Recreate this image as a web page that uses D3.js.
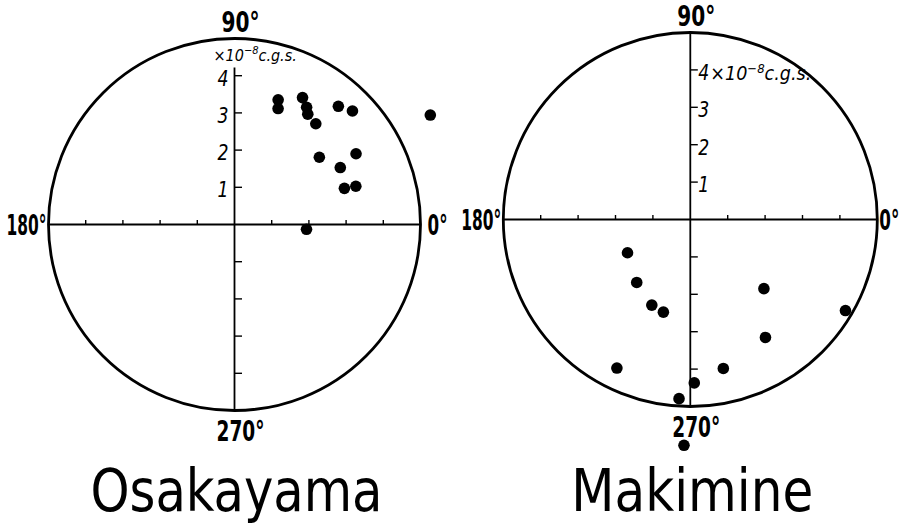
<!DOCTYPE html>
<html>
<head>
<meta charset="utf-8">
<script src="https://cdn.jsdelivr.net/npm/d3@7"></script>
<style>
  html, body { margin: 0; padding: 0; background: #fff; }
  svg { display: block; }
  text { font-family: "DejaVu Sans Condensed", "Liberation Sans Narrow", "DejaVu Sans", sans-serif; fill: #000; }
</style>
</head>
<body>
<svg id="chart" width="908" height="532"></svg>
<script>
// Direction of remanent magnetization (degrees, 0° = right, counter-clockwise)
// and its intensity (×10⁻⁸ c.g.s.) for each specimen.
const osakayamaDirection = [70.7, 69.4, 61.8, 58.4, 56.4, 51.1, 48.7, 43.9, 38.4, 30.2, 28.3, 18.2, 17.5, 356.2, 29.2];
const osakayamaIntensity = [3.55, 3.33, 3.87, 3.70, 3.56, 3.48, 4.23, 4.40, 2.91, 3.78, 3.23, 3.11, 3.42, 1.94, 6.03];

const makimineDirection = [207.9, 229.6, 245.8, 253.8, 243.7, 266.4, 271.4, 282.5, 316.8, 302.5, 329.6, 268.4];
const makimineIntensity = [1.90, 2.21, 2.51, 2.58, 4.43, 4.80, 4.37, 4.08, 2.70, 3.74, 4.81, 6.04];

const radialTicks = [1, 2, 3, 4];
const radialTickLabels = ["1", "2", "3", "4"];
const compassAngles = [0, 90, 180, 270];
const compassLabels = ["0°", "90°", "180°", "270°"];
const siteNames = ["Osakayama", "Makimine"];

const svg = d3.select("#chart");

// rendered widths of the compass labels (px)
const compassWidth = { 0: 20, 90: 38, 180: 40, 270: 48 };

function drawPlot(opts) {
  const { cx, cy, R, direction, intensity, name, nameWidth, labelsLeft, zeroGap } = opts;
  const g = svg.append("g");
  const r = d3.scaleLinear().domain([0, 5]).range([0, R]);
  const toXY = (deg, m) => {
    const a = deg * Math.PI / 180;
    return [cx + r(m) * Math.cos(a), cy - r(m) * Math.sin(a)];
  };

  // outer rim
  g.append("circle")
    .attr("cx", cx).attr("cy", cy).attr("r", r(5))
    .attr("fill", "none").attr("stroke", "#000").attr("stroke-width", 2.8);

  // horizontal axis
  g.append("line")
    .attr("x1", cx - r(5)).attr("x2", cx + r(5))
    .attr("y1", cy).attr("y2", cy)
    .attr("stroke", "#000").attr("stroke-width", 1.8);

  // vertical axis (left plot leaves room for the unit caption at the top)
  g.append("line")
    .attr("x1", cx).attr("x2", cx)
    .attr("y1", labelsLeft ? cy - r(4.22) : cy - r(5)).attr("y2", cy + r(5))
    .attr("stroke", "#000").attr("stroke-width", 1.8);

  // ticks along the horizontal axis (both sides)
  const hTicks = radialTicks.flatMap(v => [v, -v]);
  g.selectAll(".htick").data(hTicks).enter().append("line")
    .attr("x1", d => cx + (d > 0 ? r(d) : -r(-d)))
    .attr("x2", d => cx + (d > 0 ? r(d) : -r(-d)))
    .attr("y1", cy).attr("y2", cy - 4.5)
    .attr("stroke", "#000").attr("stroke-width", 1.4);

  // ticks along the vertical axis (both sides), pointing right
  const vTicks = radialTicks.flatMap(v => [v, -v]);
  g.selectAll(".vtick").data(vTicks).enter().append("line")
    .attr("x1", cx).attr("x2", cx + 7.5)
    .attr("y1", d => cy - (d > 0 ? r(d) : -r(-d)))
    .attr("y2", d => cy - (d > 0 ? r(d) : -r(-d)))
    .attr("stroke", "#000").attr("stroke-width", 1.4);

  // radial tick labels
  g.selectAll(".tlabel").data(radialTicks).enter().append("text")
    .attr("font-style", "italic")
    .attr("font-size", labelsLeft ? 22 : 21)
    .attr("text-anchor", labelsLeft ? "end" : "start")
    .attr("x", labelsLeft ? cx - 6 : cx + 8)
    .attr("y", d => cy - r(d) + 10)
    .attr("textLength", 11).attr("lengthAdjust", "spacingAndGlyphs")
    .text((d, i) => radialTickLabels[i]);

  // unit caption
  const unit = labelsLeft
    ? g.append("text").attr("x", cx - 21).attr("y", cy - r(4.4))
    : g.append("text").attr("x", cx + 20).attr("y", cy - r(4) + 10);
  unit.attr("font-style", "italic").attr("font-size", labelsLeft ? 16 : 19.5)
    .attr("text-anchor", "start");
  unit.append("tspan").text("×10");
  unit.append("tspan").attr("font-size", labelsLeft ? 11 : 13).attr("dy", -7).text("−8");
  unit.append("tspan").attr("dy", 7).text("c.g.s.");

  // compass labels
  g.selectAll(".clabel").data(compassAngles).enter().append("text")
    .attr("font-size", 28)
    .attr("font-weight", "bold")
    .attr("text-anchor", d => d === 0 || d === 180 ? "end" : "middle")
    .attr("x", d => d === 0 ? cx + r(5) + zeroGap + compassWidth[0] : d === 180 ? cx - r(5) - 2 : cx + 6)
    .attr("y", d => d === 90 ? cy - r(5) - 7 : d === 270 ? cy + r(5) + 30 : cy + 10)
    .attr("textLength", d => compassWidth[d]).attr("lengthAdjust", "spacingAndGlyphs")
    .text((d, i) => compassLabels[i]);

  // specimens
  g.selectAll(".pt").data(direction).enter().append("circle")
    .attr("cx", (d, i) => toXY(d, intensity[i])[0])
    .attr("cy", (d, i) => toXY(d, intensity[i])[1])
    .attr("r", 5.8)
    .attr("fill", "#000");

  // site name
  g.append("text")
    .attr("x", cx - nameWidth / 2 + 2).attr("y", 511)
    .attr("font-size", 58)
    .attr("textLength", nameWidth).attr("lengthAdjust", "spacingAndGlyphs")
    .text(name);
}

drawPlot({ cx: 234.5, cy: 224.5, R: 186, direction: osakayamaDirection, intensity: osakayamaIntensity,
           name: siteNames[0], nameWidth: 292, labelsLeft: true, zeroGap: 7 });
drawPlot({ cx: 690.3, cy: 219.5, R: 187, direction: makimineDirection, intensity: makimineIntensity,
           name: siteNames[1], nameWidth: 242, labelsLeft: false, zeroGap: 2 });
</script>
</body>
</html>
